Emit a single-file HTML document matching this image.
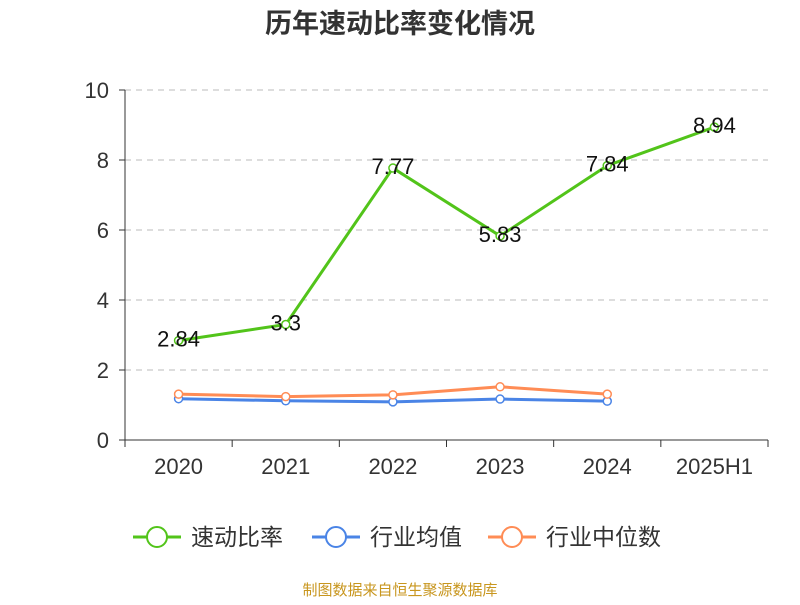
<!DOCTYPE html>
<html><head><meta charset="utf-8"><style>
body{margin:0;background:#fff;font-family:"Liberation Sans","Noto Sans CJK SC",sans-serif}
</style></head><body>
<svg id="c" width="800" height="600" xmlns="http://www.w3.org/2000/svg" font-family="Liberation Sans, Noto Sans CJK SC, sans-serif">
<text x="400" y="33" text-anchor="middle" font-size="27" font-weight="bold" fill="#333">历年速动比率变化情况</text>
<g id="grid"></g><g id="axes"></g><g id="series"></g>
<g font-size="23" fill="#333">
<g><line x1="133" y1="537" x2="181" y2="537" stroke="#52c41a" stroke-width="3"/><circle cx="157" cy="537" r="10" fill="#fff" stroke="#52c41a" stroke-width="2"/><text x="191" y="545">速动比率</text></g>
<g><line x1="312" y1="537" x2="360" y2="537" stroke="#4a84e6" stroke-width="3"/><circle cx="336" cy="537" r="10" fill="#fff" stroke="#4a84e6" stroke-width="2"/><text x="370" y="545">行业均值</text></g>
<g><line x1="488" y1="537" x2="536" y2="537" stroke="#ff8c55" stroke-width="3"/><circle cx="512" cy="537" r="10" fill="#fff" stroke="#ff8c55" stroke-width="2"/><text x="546" y="545">行业中位数</text></g>
</g>
<text x="400" y="595" text-anchor="middle" font-size="15" fill="#c8961e">制图数据来自恒生聚源数据库</text>
</svg>
<script>
const categories=["2020","2021","2022","2023","2024","2025H1"];
const quickRatio=[2.84,3.3,7.77,5.83,7.84,8.94];
const industryAvg=[1.18,1.12,1.09,1.17,1.11];
const industryMedian=[1.31,1.24,1.29,1.52,1.31];
const yTicks=[0,2,4,6,8,10];
const NS="http://www.w3.org/2000/svg";
const L=125,R=768,T=90,B=440;
const bw=(R-L)/categories.length;
const xs=i=>L+bw*(i+0.5);
const ys=v=>B-(v/10)*(B-T);
function mk(tag,attrs,parent,text){const e=document.createElementNS(NS,tag);for(const k in attrs)e.setAttribute(k,attrs[k]);if(text!==undefined)e.textContent=text;document.getElementById(parent).appendChild(e);return e;}
yTicks.forEach(t=>{
 if(t>0){const g=mk("line",{x1:L,x2:R,y1:ys(t),y2:ys(t),stroke:"#bbb","stroke-dasharray":"6,5"},"grid");
 
 }
 const tk=mk("line",{x1:L-6,x2:L,y1:ys(t),y2:ys(t),stroke:"#333"},"axes");
 
 
 const lb=mk("text",{x:L-16,y:ys(t)+8,"text-anchor":"end","font-size":"22",fill:"#333"},"axes",String(t));
 
 
});
const ya=mk("line",{x1:L,x2:L,y1:T,y2:B,stroke:"#333"},"axes");


const xa=mk("line",{x1:L,x2:R,y1:B,y2:B,stroke:"#333"},"axes");


for(let i=0;i<=categories.length;i++){const tk=mk("line",{x1:L+bw*i,x2:L+bw*i,y1:B,y2:B+7,stroke:"#333"},"axes");
 
 }
categories.forEach((c,i)=>{const lb=mk("text",{x:xs(i),y:B+34,"text-anchor":"middle","font-size":"22",fill:"#333"},"axes",c);
 
 });
function series(vals,color,name,labels){
 const pl=mk("polyline",{points:vals.map((v,i)=>xs(i)+","+ys(v)).join(" "),fill:"none",stroke:color,"stroke-width":"3"},"series");
 
 
 vals.forEach((v,i)=>{const c=mk("circle",{cx:xs(i),cy:ys(v),r:4,fill:"#fff",stroke:color,"stroke-width":"1.5"},"series");
  
  
  if(labels){const t=mk("text",{x:xs(i),y:ys(v)+6,"text-anchor":"middle","font-size":"22",fill:"#111"},"series",String(v));
   
   }
 });
}
series(industryAvg,"#4a84e6","industry-average",false);
series(industryMedian,"#ff8c55","industry-median",false);
series(quickRatio,"#52c41a","quick-ratio",true);
</script>
</body></html>
